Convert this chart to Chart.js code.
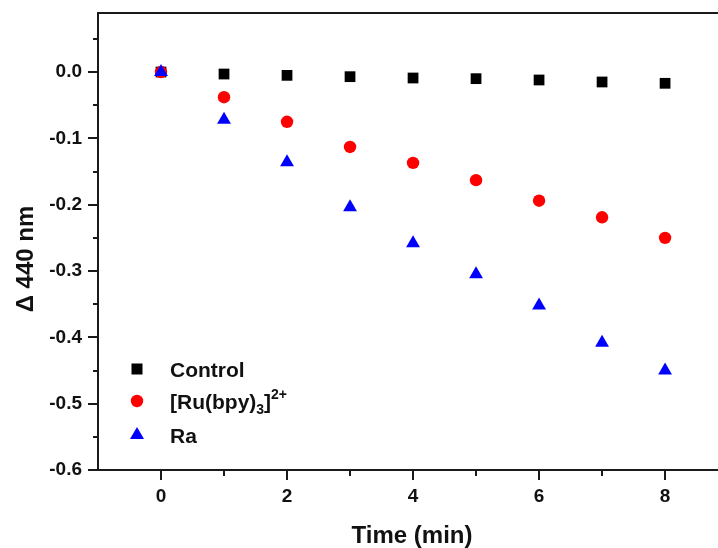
<!DOCTYPE html>
<html>
<head>
<meta charset="utf-8">
<script src="https://cdn.jsdelivr.net/npm/chart.js@4/dist/chart.umd.min.js"></script>
<style>
html,body{margin:0;padding:0;background:#fff;overflow:hidden;}
#wrap{width:718px;height:548px;}
</style>
</head>
<body>
<div id="wrap"><canvas id="c" width="718" height="548"></canvas></div>
<script>
// ---- data ----
const times = [0, 1, 2, 3, 4, 5, 6, 7, 8];
const control = [0, -0.003, -0.005, -0.007, -0.009, -0.010, -0.012, -0.015, -0.017];
const ruBpy = [0, -0.038, -0.075, -0.113, -0.137, -0.163, -0.194, -0.219, -0.250];
const ra = [0, -0.072, -0.136, -0.204, -0.258, -0.305, -0.352, -0.408, -0.450];

const seriesNames = ['Control', '[Ru(bpy)3]2+', 'Ra'];
const xTickLabels = [0, 2, 4, 6, 8];
const xMinorTicks = [1, 3, 5, 7];
const yTickLabels = [-0.6, -0.5, -0.4, -0.3, -0.2, -0.1, 0.0];
const yMinorTicks = [-0.55, -0.45, -0.35, -0.25, -0.15, -0.05, 0.05];
const xTitle = 'Time (min)';
const yTitle = '\u0394 440 nm';

const FONT = '"Liberation Sans", Arial, Helvetica, sans-serif';
const AXIS = '#1a1a1a';

function pts(ys){ return times.map((t,i)=>({x:t, y:ys[i]})); }
function noPad(s){ s.paddingLeft = 0; s.paddingRight = 0; s.paddingTop = 0; s.paddingBottom = 0; }

const deco = {
  id: 'deco',
  afterDraw(chart){
    const {ctx, chartArea:a, scales:{x, y}} = chart;
    ctx.save();
    ctx.strokeStyle = AXIS;
    ctx.lineWidth = 2;
    const line = (x1,y1,x2,y2)=>{ctx.beginPath();ctx.moveTo(x1,y1);ctx.lineTo(x2,y2);ctx.stroke();};
    // top frame
    line(a.left-1, a.top, a.right, a.top);
    // y ticks
    yTickLabels.forEach(v=>{const p=Math.round(y.getPixelForValue(v)); line(a.left-10,p,a.left,p);});
    yMinorTicks.forEach(v=>{const p=Math.round(y.getPixelForValue(v)); line(a.left-5,p,a.left,p);});
    // x ticks
    xTickLabels.forEach(v=>{const p=Math.round(x.getPixelForValue(v)); line(p,a.bottom,p,a.bottom+10);});
    xMinorTicks.forEach(v=>{const p=Math.round(x.getPixelForValue(v)); line(p,a.bottom,p,a.bottom+6);});

    // axis titles
    ctx.fillStyle = '#111';
    ctx.font = 'bold 24px ' + FONT;
    ctx.textAlign = 'center';
    ctx.textBaseline = 'alphabetic';
    ctx.fillText(xTitle, 412, 543);
    ctx.save();
    ctx.translate(33, 259);
    ctx.rotate(-Math.PI/2);
    ctx.fillText(yTitle, 0, 0);
    ctx.restore();

    // legend
    const mx = 137, tx = 170;
    const rows = [369, 401, 435];
    ctx.fillStyle = '#000';
    ctx.fillRect(mx-5.5, rows[0]-5.5, 11, 11);
    ctx.fillStyle = '#ff0000';
    ctx.beginPath(); ctx.arc(mx, rows[1], 6.2, 0, Math.PI*2); ctx.fill();
    ctx.fillStyle = '#0000ff';
    ctx.beginPath();
    ctx.moveTo(mx, rows[2]-8);
    ctx.lineTo(mx+7, rows[2]+4);
    ctx.lineTo(mx-7, rows[2]+4);
    ctx.closePath(); ctx.fill();

    ctx.fillStyle = '#111';
    ctx.textAlign = 'left';
    ctx.textBaseline = 'alphabetic';
    const big = 'bold 21px ' + FONT, small = 'bold 14px ' + FONT;
    const base = r => r + 7.5;
    ctx.font = big;
    ctx.fillText(seriesNames[0], tx, base(rows[0]));
    ctx.fillText(seriesNames[2], tx, base(rows[2]));
    let cx = tx; const b = base(rows[1]);
    const part = (t, f, dy)=>{ctx.font=f; ctx.fillText(t, cx, b+dy); cx += ctx.measureText(t).width;};
    part('[Ru(bpy)', big, 0);
    part('3', small, 5);
    part(']', big, 0);
    part('2+', small, -10);
    ctx.restore();
  }
};

new Chart(document.getElementById('c'), {
  type: 'scatter',
  data: {
    datasets: [
      {label: seriesNames[0], data: pts(control), pointStyle: 'rect', pointRadius: 7.6, pointHoverRadius: 7.6,
       backgroundColor: '#000000', borderColor: '#000000', borderWidth: 0, order: 2},
      {label: seriesNames[1], data: pts(ruBpy), pointStyle: 'circle', pointRadius: 6.2, pointHoverRadius: 6.2,
       backgroundColor: '#ff0000', borderColor: '#ff0000', borderWidth: 0, order: 1},
      {label: seriesNames[2], data: pts(ra), pointStyle: 'triangle', pointRadius: 8, pointHoverRadius: 8,
       backgroundColor: '#0000ff', borderColor: '#0000ff', borderWidth: 0, order: 0}
    ]
  },
  options: {
    responsive: false,
    devicePixelRatio: 1,
    animation: false,
    events: [],
    layout: {autoPadding: false, padding: {top: 13, left: 0, right: 0, bottom: 0}},
    plugins: {legend: {display: false}, tooltip: {enabled: false}, title: {display: false}},
    scales: {
      x: {
        type: 'linear', position: 'bottom', min: -1, max: 8.84,
        afterFit: s => { s.height = 78; noPad(s); },
        afterBuildTicks: s => { s.ticks = xTickLabels.map(v => ({value: v})); },
        grid: {display: true, drawOnChartArea: false, drawTicks: false},
        border: {display: true, color: AXIS, width: 2},
        ticks: {padding: 15, color: '#111', font: {family: FONT, size: 19, weight: 'bold'},
                callback: v => String(v), maxRotation: 0}
      },
      y: {
        type: 'linear', position: 'left', min: -0.6, max: 0.089,
        afterFit: s => { s.width = 98; noPad(s); },
        afterBuildTicks: s => { s.ticks = yTickLabels.map(v => ({value: v})); },
        grid: {display: true, drawOnChartArea: false, drawTicks: false},
        border: {display: true, color: AXIS, width: 2},
        ticks: {padding: 16, color: '#111', font: {family: FONT, size: 19, weight: 'bold'},
                callback: v => v.toFixed(1)}
      }
    }
  },
  plugins: [deco]
});
</script>
</body>
</html>
